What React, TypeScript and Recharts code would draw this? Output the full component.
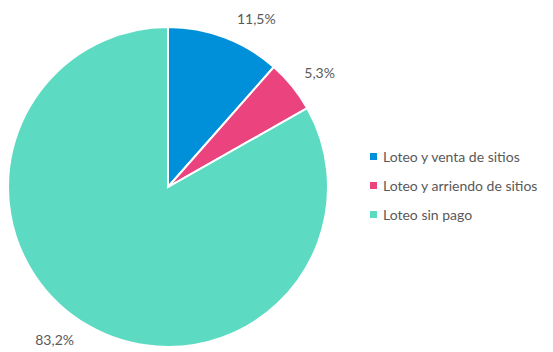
import { PieChart, Pie, Cell, Legend } from 'recharts'

const categories = ['Loteo y venta de sitios', 'Loteo y arriendo de sitios', 'Loteo sin pago']
const shares = [11.5, 5.3, 83.2]
const labels = ['11,5%', '5,3%', '83,2%']

const COLORS = ['#0090DA', '#EA437E', '#5DDAC2']
// small angular nudges so the labels sit where the original places them
const LABEL_SHIFT = [-7, -2, -6.4]
const FONT = 'Lato, "Open Sans", sans-serif'
const RAD = Math.PI / 180

const data = categories.map((name, i) => ({ name, value: shares[i], label: labels[i] }))

function renderLabel(props: any) {
  const { cx, cy, midAngle, outerRadius, index } = props
  const a = midAngle + LABEL_SHIFT[index]
  const r = outerRadius + 30
  const x = cx + r * Math.cos(-a * RAD)
  const y = cy + r * Math.sin(-a * RAD)
  return (
    <text x={x} y={y} textAnchor="middle" dominantBaseline="central" fill="#595959" fontSize={14} fontFamily={FONT}>
      {data[index].label}
    </text>
  )
}

function LegendBox() {
  return (
    <div style={{ fontFamily: FONT, fontSize: 14, color: '#595959' }}>
      {data.map((d, i) => (
        <div key={d.name} style={{ display: 'flex', alignItems: 'center', height: 29 }}>
          <span style={{ width: 7, height: 7, background: COLORS[i], marginRight: 6, display: 'inline-block' }} />
          <span>{d.name}</span>
        </div>
      ))}
    </div>
  )
}

export default function App() {
  return (
    <div style={{ position: 'absolute', left: 0, top: 0, width: 553, height: 352, background: '#fff' }}>
      <PieChart width={553} height={352} margin={{ top: 0, right: 0, bottom: 0, left: 0 }}>
        <Pie
          data={data}
          dataKey="value"
          nameKey="name"
          cx={168}
          cy={187}
          outerRadius={160}
          startAngle={90}
          endAngle={-270}
          stroke="#fff"
          strokeWidth={2}
          label={renderLabel}
          labelLine={false}
          isAnimationActive={false}
        >
          {data.map((d, i) => (
            <Cell key={d.name} fill={COLORS[i]} />
          ))}
        </Pie>
        <Legend content={<LegendBox />} wrapperStyle={{ left: 370, top: 142, width: 180 }} />
      </PieChart>
    </div>
  )
}
